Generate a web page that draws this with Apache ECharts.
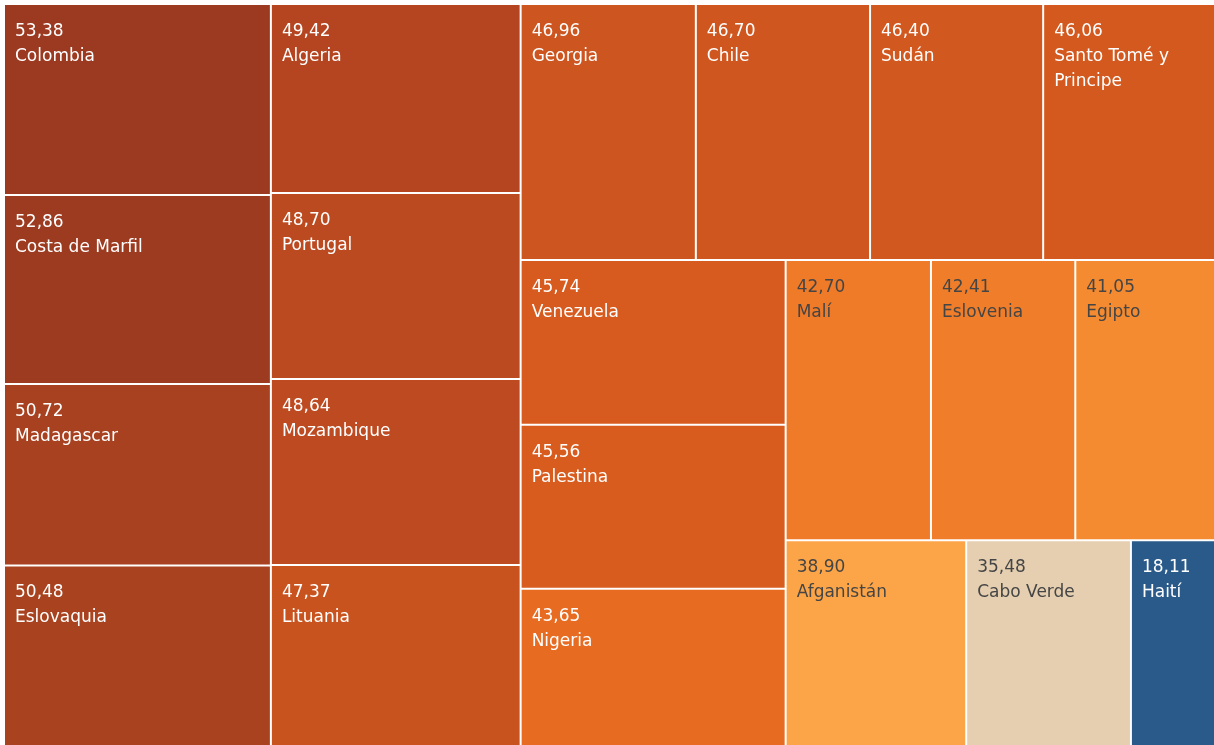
<!DOCTYPE html>
<html>
<head>
<meta charset="utf-8">
<script src="https://cdn.jsdelivr.net/npm/echarts@6/dist/echarts.min.js"></script>
<style>
html,body{margin:0;padding:0;background:#fff;}
#chart{width:1214px;height:745px;}
</style>
</head>
<body>
<div id="chart"></div>
<script>
var countries = ["Colombia","Costa de Marfil","Madagascar","Eslovaquia","Algeria","Portugal","Mozambique","Lituania","Georgia","Chile","Sudán","Santo Tomé y Principe","Venezuela","Palestina","Nigeria","Malí","Eslovenia","Egipto","Afganistán","Cabo Verde","Haití"];
var values = [53.38,52.86,50.72,50.48,49.42,48.70,48.64,47.37,46.96,46.70,46.40,46.06,45.74,45.56,43.65,42.70,42.41,41.05,38.90,35.48,18.11];

// diverging colour scale (style)
var colorStops = [
  [18.11, [42, 90, 138]],
  [35.48, [229, 207, 176]],
  [38.90, [251, 165, 72]],
  [41.05, [245, 139, 48]],
  [42.70, [239, 122, 40]],
  [43.65, [232, 107, 34]],
  [45.74, [215, 91, 30]],
  [47.37, [201, 83, 31]],
  [49.42, [181, 69, 32]],
  [50.48, [168, 66, 31]],
  [53.38, [155, 58, 33]]
];
function colorFor(v){
  var c;
  if (v <= colorStops[0][0]) c = colorStops[0][1];
  else if (v >= colorStops[colorStops.length-1][0]) c = colorStops[colorStops.length-1][1];
  else {
    for (var i=0;i<colorStops.length-1;i++){
      var a=colorStops[i], b=colorStops[i+1];
      if (v>=a[0] && v<=b[0]){
        var t=(v-a[0])/(b[0]-a[0]);
        c=[0,1,2].map(function(k){return Math.round(a[1][k]+(b[1][k]-a[1][k])*t);});
        break;
      }
    }
  }
  return c;
}
function rgb(c){return 'rgb('+c[0]+','+c[1]+','+c[2]+')';}
function lum(c){return 0.299*c[0]+0.587*c[1]+0.114*c[2];}

var data = countries.map(function(n,i){
  var c = colorFor(values[i]);
  return {
    name: n,
    value: values[i],
    itemStyle: {color: rgb(c)},
    label: {color: lum(c) > 142 && lum(c) < 215 ? '#454545' : '#ffffff'}
  };
});

var chart = echarts.init(document.getElementById('chart'), null, {renderer:'canvas'});
chart.setOption({
  animation: false,
  series: [{
    type: 'treemap',
    left: 5, top: 5, right: 0, bottom: 0,
    width: 1209, height: 740,
    roam: false,
    nodeClick: false,
    breadcrumb: {show: false},
    sort: 'desc',
    levels: [
      {itemStyle: {borderWidth: 0, gapWidth: 2, borderColor: '#ffffff'}},
      {itemStyle: {borderWidth: 0, gapWidth: 0}}
    ],
    label: {
      show: true,
      position: 'insideTopLeft',
      distance: 0,
      padding: [14, 10, 0, 10],
      fontFamily: '"DejaVu Sans", sans-serif',
      fontSize: 17,
      lineHeight: 25,
      overflow: 'break',
      formatter: function(p){
        return p.value.toFixed(2).replace('.', ',') + '\n' + p.name;
      }
    },
    upperLabel: {show: false},
    data: data
  }]
});
</script>
</body>
</html>
